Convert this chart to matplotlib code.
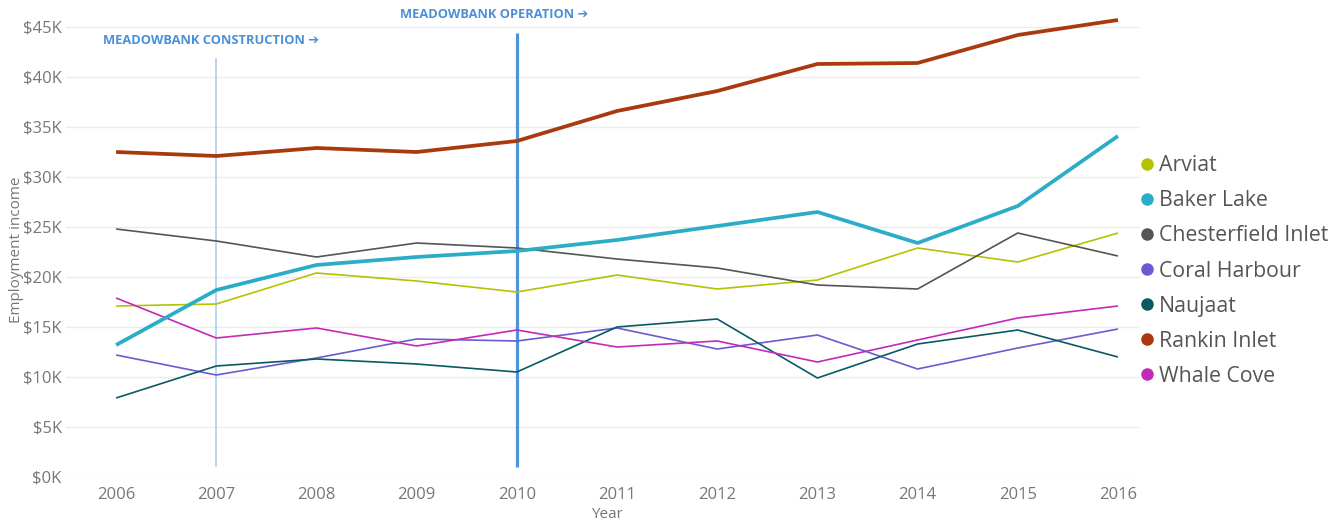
import matplotlib
matplotlib.use("Agg")
import matplotlib.pyplot as plt
from matplotlib.lines import Line2D
from matplotlib.ticker import FuncFormatter

plt.rcParams['font.family'] = ['Open Sans', 'DejaVu Sans']

years = [2006, 2007, 2008, 2009, 2010, 2011, 2012, 2013, 2014, 2015, 2016]

# employment income, $K
arviat = [17.1, 17.3, 20.4, 19.6, 18.5, 20.2, 18.8, 19.7, 22.9, 21.5, 24.4]
baker_lake = [13.2, 18.7, 21.2, 22.0, 22.6, 23.7, 25.1, 26.5, 23.4, 27.1, 34.1]
chesterfield = [24.8, 23.6, 22.0, 23.4, 22.9, 21.8, 20.9, 19.2, 18.8, 24.4, 22.1]
coral_harbour = [12.2, 10.2, 11.9, 13.8, 13.6, 14.9, 12.8, 14.2, 10.8, 12.9, 14.8]
naujaat = [7.9, 11.1, 11.8, 11.3, 10.5, 15.0, 15.8, 9.9, 13.3, 14.7, 12.0]
rankin_inlet = [32.5, 32.1, 32.9, 32.5, 33.6, 36.6, 38.6, 41.3, 41.4, 44.2, 45.7]
whale_cove = [17.9, 13.9, 14.9, 13.1, 14.7, 13.0, 13.6, 11.5, 13.7, 15.9, 17.1]

names = ['Arviat', 'Baker Lake', 'Chesterfield Inlet', 'Coral Harbour',
         'Naujaat', 'Rankin Inlet', 'Whale Cove']
series = [arviat, baker_lake, chesterfield, coral_harbour, naujaat,
          rankin_inlet, whale_cove]
colors = ['#B4C200', '#2BADC7', '#555555', '#6A5BCF', '#0A5A64',
          '#A93A0D', '#C42AB8']
widths = [1.2, 2.7, 1.2, 1.2, 1.2, 2.7, 1.2]

fig = plt.figure(figsize=(13.42, 5.22), dpi=100)
ax = fig.add_axes([66/1342, 45/522, (1140-66)/1342, 460/522])

order = [0, 2, 3, 4, 6, 1, 5]  # thick lines on top
for i in order:
    ax.plot(years, series[i], color=colors[i], lw=widths[i],
            solid_joinstyle='round', solid_capstyle='butt', zorder=3)

# milestone lines
ax.vlines(2007, 1.0, 41.9, color='#A9CFF0', lw=1.2, zorder=2)
ax.vlines(2010, 1.0, 44.4, color='#4D94DA', lw=2.3, zorder=2)
ax.text(2005.87, 43.6, 'MEADOWBANK CONSTRUCTION \u2794', color='#4A90D9',
        fontsize=9.3, fontweight='bold', va='center', ha='left',
        family=['Open Sans', 'DejaVu Sans'])
ax.text(2008.83, 46.2, 'MEADOWBANK OPERATION \u2794', color='#4A90D9',
        fontsize=9.3, fontweight='bold', va='center', ha='left', clip_on=False,
        family=['Open Sans', 'DejaVu Sans'])

ax.set_xlim(2005.5, 2016.22)
ax.set_ylim(0, 46)
ax.set_xticks(years)
ax.set_yticks(range(0, 46, 5))
ax.yaxis.set_major_formatter(FuncFormatter(lambda v, p: '$%dK' % v))
ax.grid(axis='y', color='#ECECEC', lw=1)
ax.set_axisbelow(True)
for s in ax.spines.values():
    s.set_visible(False)
ax.tick_params(length=0, colors='#777777', labelsize=12)
ax.tick_params(axis='y', pad=3)
ax.tick_params(axis='x', pad=7)

fig.text(17/1342, 1 - 250/522, 'Employment income', rotation=90,
         color='#777777', fontsize=11, ha='center', va='center')
fig.text(607/1342, 1 - 514/522, 'Year', color='#777777', fontsize=11,
         ha='center', va='center')

handles = [Line2D([], [], marker='o', ls='none', color=c, markersize=8)
           for c in colors]
fig.legend(handles, names, loc='center left', bbox_to_anchor=(1141/1342, 1 - 271/522),
           frameon=False, fontsize=15.3, labelcolor='#555555', handlelength=0.6,
           handletextpad=0.25, labelspacing=0.66, borderpad=0, borderaxespad=0)

fig.savefig('out.png', dpi=100)
